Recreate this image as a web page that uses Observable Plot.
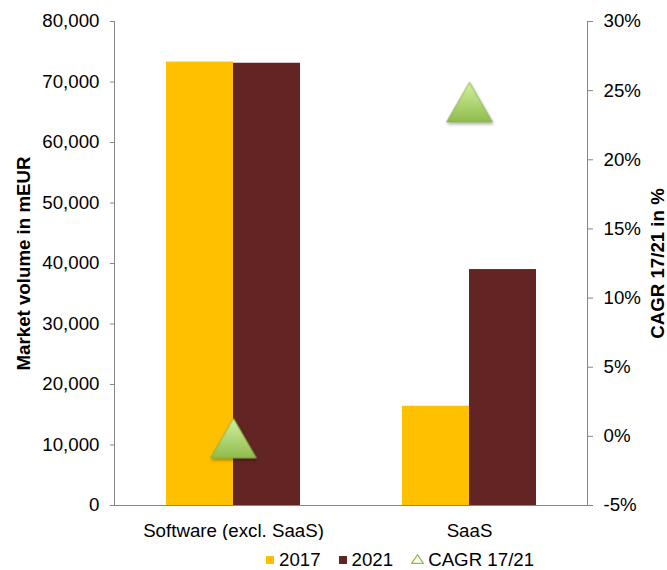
<!DOCTYPE html>
<html><head><meta charset="utf-8">
<script src="https://cdn.jsdelivr.net/npm/d3@7"></script>
<script src="https://cdn.jsdelivr.net/npm/@observablehq/plot@0.6"></script>
<style>
html,body{margin:0;padding:0;background:#fff;overflow:hidden;}
body{font-family:"Liberation Sans",Arial,sans-serif;color:#000;}
#wrap{position:relative;width:667px;height:540px;}
#wrap svg{position:absolute;left:0;top:0;}
#legend{position:relative;height:30px;width:667px;font-size:18.7px;line-height:16px;}
#legend .row{position:absolute;left:266px;top:12px;display:flex;align-items:baseline;white-space:nowrap;}
#legend .item{display:flex;align-items:baseline;margin-right:18px;}
#legend .sw{display:inline-block;width:8px;height:8px;margin-right:5px;position:relative;top:-2px;}
#legend svg{margin-right:4px;position:relative;top:-2px;}
</style></head><body>
<div id="wrap"></div>
<div id="legend"></div>
<script>
// ---- data ----
const categories = ["Software (excl. SaaS)", "SaaS"];
const years = ["2017", "2021"];
const values2017 = [73300, 16400];
const values2021 = [73100, 39000];
const cagrValues = [-0.1, 24.2];           // CAGR 17/21 in %
const yTicks = [0, 10000, 20000, 30000, 40000, 50000, 60000, 70000, 80000];
const cagrTicks = [-5, 0, 5, 10, 15, 20, 25, 30];
const yTitle = "Market volume in mEUR";
const y2Title = "CAGR 17/21 in %";
const cagrLabel = "CAGR 17/21";

// ---- styles ----
const yearColors = ["#FFC000", "#632523"];
const axisGray = "#868686";
const font = '"Liberation Sans", Arial, sans-serif';

const bars = categories.flatMap((c, i) => [
  {category: c, year: years[0], value: values2017[i]},
  {category: c, year: years[1], value: values2021[i]}
]);
const cagrData = categories.map((c, i) => ({category: c, cagr: cagrValues[i]}));

const common = {
  width: 667, height: 540,
  marginTop: 21, marginBottom: 35, marginLeft: 114, marginRight: 80,
  style: {fontFamily: font, fontSize: "18.7px", color: "#000", background: "transparent"}
};

const p1 = Plot.plot({
  ...common,
  fx: {domain: categories, padding: 0},
  x: {domain: years, paddingInner: 0, paddingOuter: 0.752, axis: null},
  y: {domain: [0, 80000]},
  color: {domain: years, range: yearColors},
  marks: [
    Plot.barY(bars, {fx: "category", x: "year", y: "value", fill: "year", inset: 0}),
    Plot.axisY({ticks: yTicks, tickFormat: d3.format(","), tickSize: 5, tickPadding: 11, stroke: axisGray, label: null}),
    Plot.axisFx({anchor: "bottom", tickSize: 0, tickPadding: 18, label: null})
  ]
});

const p2 = Plot.plot({
  ...common,
  x: {type: "band", domain: categories, padding: 0, axis: null},
  y: {domain: [-5, 30]},
  marks: [
    Plot.frame({anchor: "left", stroke: axisGray}),
    Plot.frame({anchor: "right", stroke: axisGray}),
    Plot.frame({anchor: "bottom", stroke: axisGray}),
    Plot.axisY({anchor: "right", ticks: cagrTicks, tickFormat: d => d + "%", tickSize: 5, tickPadding: 11, stroke: axisGray, label: null}),
    Plot.dot(cagrData, {x: "category", y: "cagr", symbol: "triangle", r: 17, fill: "url(#triGrad)", stroke: "#7fa646", strokeWidth: 0.8, dy: 7}),
    Plot.text([yTitle], {text: d => d, frameAnchor: "left", textAnchor: "middle", rotate: -90, dx: -90, fontWeight: "bold"}),
    Plot.text([y2Title], {text: d => d, frameAnchor: "right", textAnchor: "middle", rotate: -90, dx: 71, fontWeight: "bold"})
  ]
});

const wrap = document.getElementById("wrap");
wrap.appendChild(p1);
wrap.appendChild(p2);

const svgNS = "http://www.w3.org/2000/svg";
const defs = document.createElementNS(svgNS, "defs");
defs.innerHTML = `
  <linearGradient id="triGrad" x1="0" y1="0" x2="0" y2="1">
    <stop offset="0" stop-color="#d4f0a2"/>
    <stop offset="1" stop-color="#8fbd4b"/>
  </linearGradient>
  <filter id="triShadow" x="-30%" y="-30%" width="160%" height="160%">
    <feDropShadow dx="1" dy="2" stdDeviation="1.5" flood-color="#000" flood-opacity="0.3"/>
  </filter>`;
p2.insertBefore(defs, p2.firstChild);
p2.querySelectorAll('[fill="url(#triGrad)"]').forEach(el => el.setAttribute("filter", "url(#triShadow)"));

// ---- legend ----
const leg = document.getElementById("legend");
const row = document.createElement("div");
row.className = "row";
years.forEach((y, i) => {
  const it = document.createElement("div");
  it.className = "item";
  it.innerHTML = `<span class="sw" style="background:${yearColors[i]}"></span><span>${y}</span>`;
  row.appendChild(it);
});
const it3 = document.createElement("div");
it3.className = "item";
it3.innerHTML = `<svg width="13" height="10" viewBox="0 0 13 10"><polygon points="6.5,0.7 12.3,9.4 0.7,9.4" fill="none" stroke="#8fbd4b" stroke-width="1.2"/></svg><span>${cagrLabel}</span>`;
row.appendChild(it3);
leg.appendChild(row);
</script>
</body></html>
